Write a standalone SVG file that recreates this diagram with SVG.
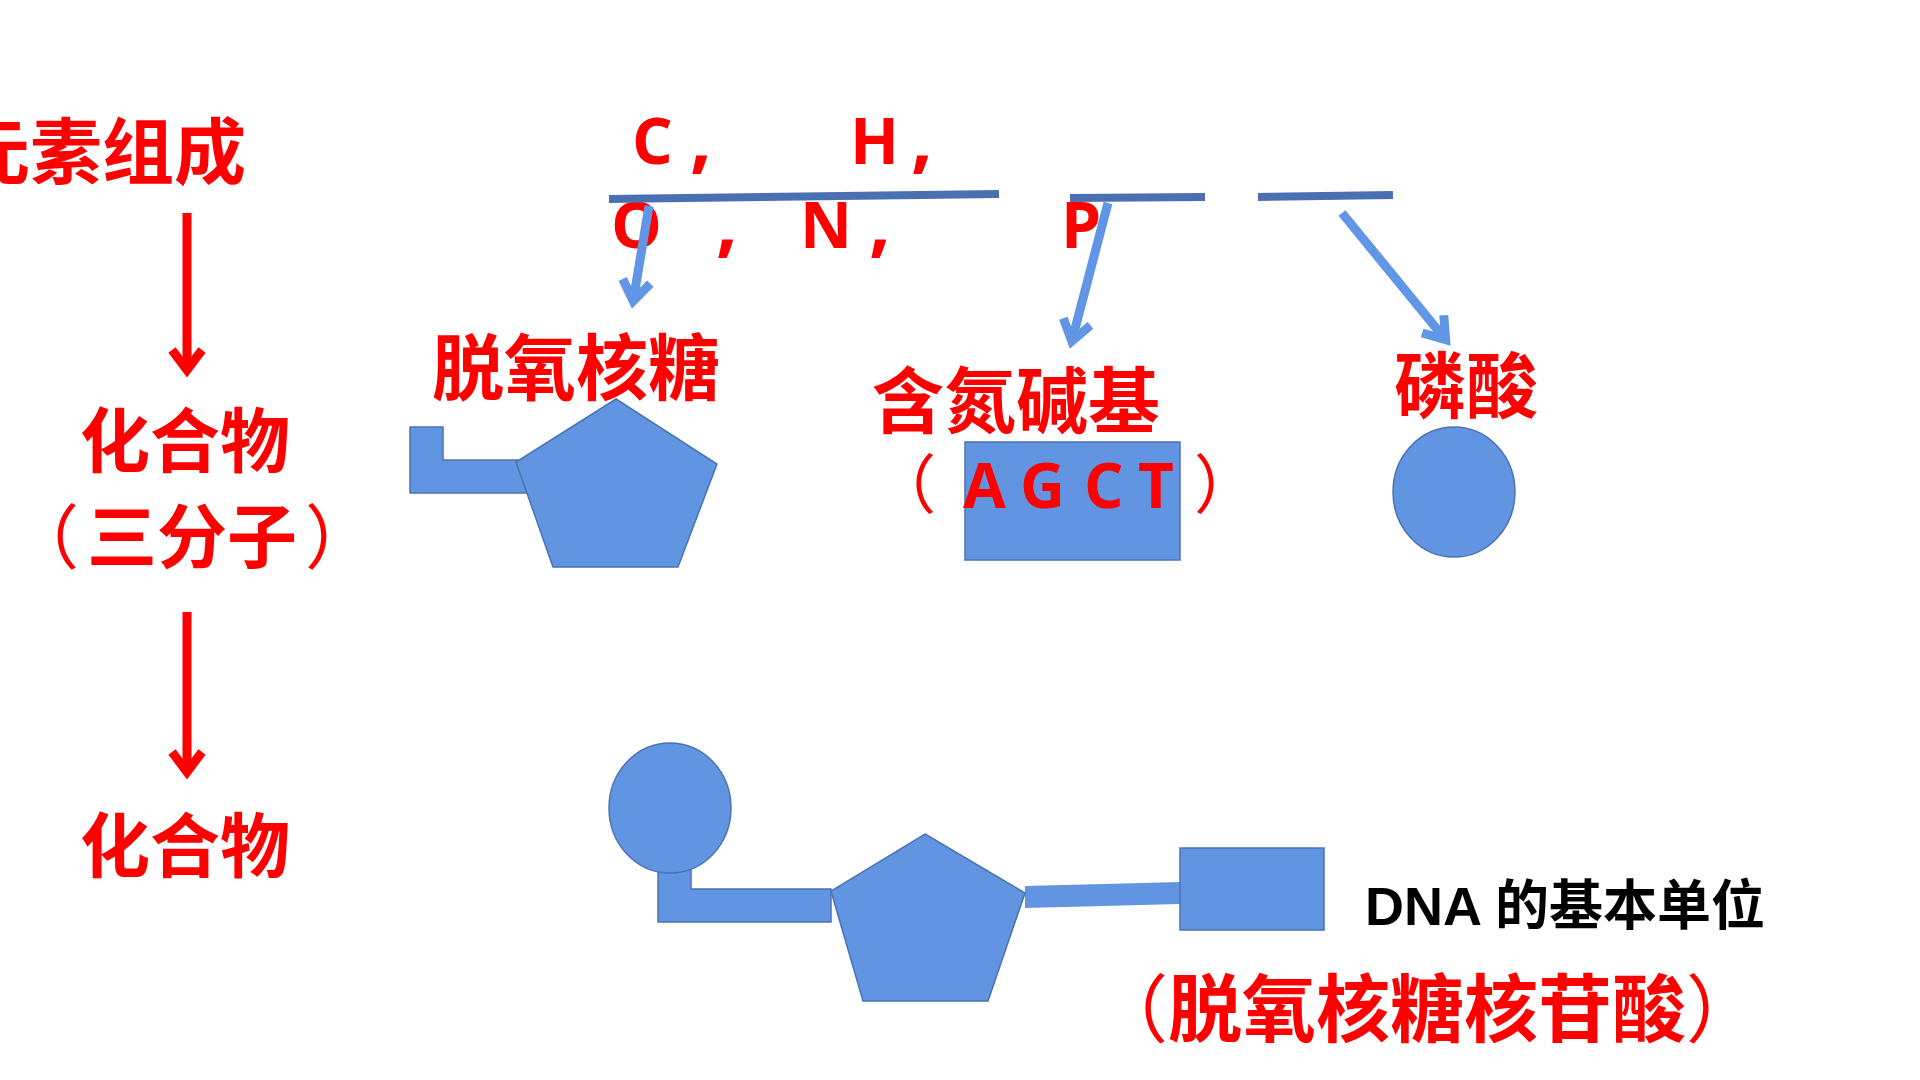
<svg xmlns="http://www.w3.org/2000/svg" width="1920" height="1080" viewBox="0 0 1920 1080">
<defs>
<style>
.cn{font-family:"Noto Sans CJK SC","Noto Sans",sans-serif;font-weight:700;fill:#ff0000;}
.pr{font-weight:400;}
.el{font-family:"Open Sans","Liberation Sans",sans-serif;font-weight:700;fill:#ff0000;}
.cm{font-size:76px;}
.blk{font-family:"Liberation Sans","Noto Sans CJK SC",sans-serif;font-weight:700;fill:#000000;}
.shape{fill:#6195e2;stroke:#4a73b3;stroke-width:1.5;}
.bar{stroke:#4a70b2;stroke-width:8;fill:none;}
.barrow{stroke:#6195e6;stroke-width:9;fill:none;marker-end:url(#hb);}
.rarrow{stroke:#ff0000;stroke-width:9;fill:none;marker-end:url(#hr);}
</style>
<marker id="hb" markerUnits="userSpaceOnUse" orient="auto" overflow="visible" refX="0" refY="0" markerWidth="1" markerHeight="1">
<path d="M-20,-14 L0,0 L-20,14" fill="none" stroke="#6195e6" stroke-width="9"/>
</marker>
<marker id="hr" markerUnits="userSpaceOnUse" orient="auto" overflow="visible" refX="0" refY="0" markerWidth="1" markerHeight="1">
<path d="M-20,-15 L0,0 L-20,15" fill="none" stroke="#ff0000" stroke-width="9"/>
</marker>
</defs>
<rect width="1920" height="1080" fill="#ffffff"/>

<g id="n-elements">
<text class="cn" font-size="72" x="-42" y="178">元素组成</text>
</g>
<g id="n-compound1">
<text class="cn" font-size="70" x="185" y="467" text-anchor="middle">化合物</text>
<text class="cn" font-size="70" x="192" y="563" text-anchor="middle"><tspan class="pr">（</tspan><tspan dx="8">三分子</tspan><tspan class="pr" dx="8">）</tspan></text>
</g>
<g id="n-compound2">
<text class="cn" font-size="70" x="185" y="872" text-anchor="middle">化合物</text>
</g>

<g id="n-chonp">
<text class="el" font-size="64" y="164"><tspan x="632">C</tspan><tspan class="cm" x="690">,</tspan><tspan x="850">H</tspan><tspan class="cm" x="911">,</tspan></text>
<text class="el" font-size="64" y="248"><tspan x="611">O</tspan><tspan class="cm" x="716">,</tspan><tspan x="800">N</tspan><tspan class="cm" x="869">,</tspan><tspan x="1061">P</tspan></text>
</g>

<g id="n-deoxyribose">
<text class="cn" font-size="72" x="576" y="394" text-anchor="middle">脱氧核糖</text>
<path class="shape" d="M410,427 H443 V460 H522 L534,493 H410 Z"/>
<polygon class="shape" points="616,399 717,464 678,567 553,567 516,462"/>
</g>

<g id="n-base">
<text class="cn" font-size="72" x="1016" y="427" text-anchor="middle">含氮碱基</text>
<rect class="shape" x="965" y="442" width="215" height="118"/>
<text class="cn pr" font-size="64" x="872" y="508">（</text>
<text class="el" font-size="62" y="508"><tspan x="963">A</tspan><tspan x="1020">G</tspan><tspan x="1084">C</tspan><tspan x="1138">T</tspan></text>
<text class="cn pr" font-size="64" x="1194" y="508">）</text>
</g>

<g id="n-phosphate">
<text class="cn" font-size="72" x="1466" y="412" text-anchor="middle">磷酸</text>
<ellipse class="shape" cx="1454" cy="492" rx="61" ry="65"/>
</g>

<g id="n-nucleotide">
<path class="shape" d="M658,860 H691 V889 H831 V922 H658 Z"/>
<ellipse class="shape" cx="670" cy="808" rx="61" ry="65"/>
<polygon class="shape" points="1025,886 1181,882 1181,904 1025,908" style="stroke:none"/>
<polygon class="shape" points="925,834 1025,893 988,1001 863,1001 831,891"/>
<rect class="shape" x="1180" y="848" width="144" height="82"/>
<text class="blk" font-size="54" x="1365" y="925">DNA 的基本单位</text>
<text class="cn" font-size="74" x="1427" y="1036" text-anchor="middle"><tspan class="pr">（</tspan>脱氧核糖核苷酸<tspan class="pr">）</tspan></text>
</g>

<g id="connectors">
<line class="rarrow" x1="187" y1="213" x2="187" y2="370"/>
<line class="rarrow" x1="187" y1="612" x2="187" y2="772"/>
<line class="bar" x1="609" y1="199" x2="999" y2="194"/>
<line class="bar" x1="1070" y1="198" x2="1205" y2="197"/>
<line class="bar" x1="1258" y1="197" x2="1393" y2="195"/>
<line class="barrow" x1="649" y1="206" x2="633.2" y2="301"/>
<line class="barrow" x1="1108" y1="203" x2="1071.8" y2="341.2"/>
<line class="barrow" x1="1342" y1="213" x2="1445.6" y2="339.6"/>
</g>
</svg>
